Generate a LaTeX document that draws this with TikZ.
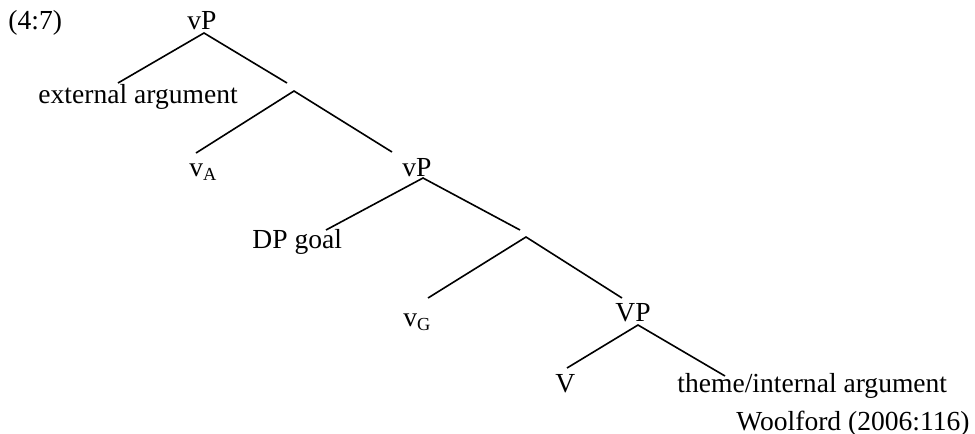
\documentclass[tikz,border=0pt]{standalone}
\usepackage{fontspec}
\setmainfont{Liberation Serif}
\tikzset{
  lbl/.style={anchor=base west, inner sep=0pt, font=\fontsize{12}{14}\selectfont},
  branch/.style={line width=0.7pt}
}
\begin{document}
\begin{tikzpicture}[x=0.0153cm, y=-0.0153cm]
    \useasboundingbox (0,0) rectangle (975,433);

    % Etiquetas del arbol
    \node[lbl] (ex) at (8,29) {(4:7)};
    \node[lbl] (vP1) at (187,29) {vP};
    \node[lbl] (ext) at (38,103) {external argument};
    \node[lbl] (vA) at (189,176) {v\textsubscript{A}};
    \node[lbl] (vP2) at (402,176) {vP};
    \node[lbl] (dp) at (252,248) {DP goal};
    \node[lbl] (vG) at (403,326) {v\textsubscript{G}};
    \node[lbl] (VP) at (615,321) {VP};
    \node[lbl] (V) at (555,392) {V};
    \node[lbl] (theme) at (677,392) {theme/internal argument};
    \node[lbl, anchor=base east] (src) at (970,430) {Woolford (2006:116)};

    % Puntos de las ramas
    \coordinate (vP1-b) at (204,33);
    \coordinate (ext-t) at (118,83);
    \coordinate (bar1-t) at (287,83);
    \coordinate (bar1-b) at (294,91);
    \coordinate (vA-t) at (196,153);
    \coordinate (vP2-t) at (392,152);
    \coordinate (vP2-b) at (423,178);
    \coordinate (dp-t) at (326,230);
    \coordinate (bar2-t) at (520,230);
    \coordinate (bar2-b) at (526,237);
    \coordinate (vG-t) at (428,298);
    \coordinate (VP-t) at (622,298);
    \coordinate (VP-b) at (638,325);
    \coordinate (V-t) at (567,368);
    \coordinate (theme-t) at (725,376);

    % Ramas
    \draw[branch] (ext-t) -- (vP1-b) -- (bar1-t);
    \draw[branch] (vA-t) -- (bar1-b) -- (vP2-t);
    \draw[branch] (dp-t) -- (vP2-b) -- (bar2-t);
    \draw[branch] (vG-t) -- (bar2-b) -- (VP-t);
    \draw[branch] (V-t) -- (VP-b) -- (theme-t);
\end{tikzpicture}
\end{document}
